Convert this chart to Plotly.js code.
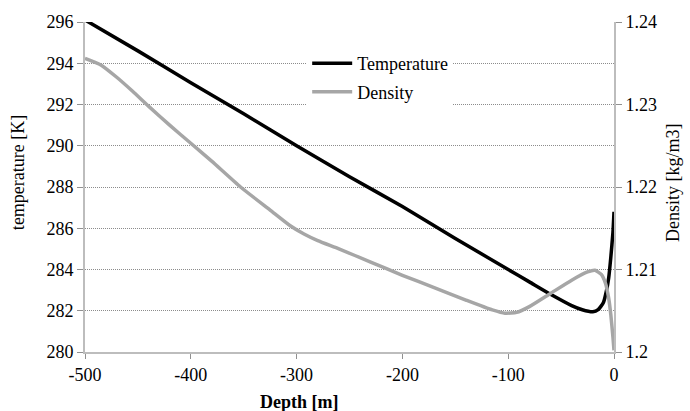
<!DOCTYPE html>
<html>
<head>
<meta charset="utf-8">
<script src="https://cdn.plot.ly/plotly-3.0.1.min.js"></script>
<style>
html,body{margin:0;padding:0;background:#fff;}
#chart{width:690px;height:411px;}
</style>
</head>
<body>
<div id="chart"></div>
<script>
// Temperature profile
var tempDepth = [-500, -450, -400, -350, -300, -250, -200, -150, -100, -80, -60, -40, -30, -20, -15, -10, -7, -5, -3, -1, 0];
var tempValues = [296.1, 294.6, 293.05, 291.55, 290.0, 288.5, 287.05, 285.5, 284.0, 283.4, 282.8, 282.25, 282.05, 281.95, 282.05, 282.4, 283.0, 283.6, 284.6, 285.8, 286.8];

// Density profile
var densDepth = [-500, -485, -470, -455, -440, -420, -400, -380, -353, -325, -306, -293, -280, -260, -230, -200, -170, -140, -115, -103, -92, -80, -60, -40, -25, -18, -12, -8, -5, -3, -1, 0];
var densValues = [1.2356, 1.2348, 1.2333, 1.2316, 1.2298, 1.2275, 1.2253, 1.2231, 1.2200, 1.2172, 1.2153, 1.2143, 1.2135, 1.2125, 1.2109, 1.2093, 1.2078, 1.2063, 1.2051, 1.2047, 1.2048, 1.2055, 1.2071, 1.2087, 1.2097, 1.2099, 1.2094, 1.2083, 1.2065, 1.2045, 1.2018, 1.2002];

var xTicks = [-500, -400, -300, -200, -100, 0];

var serif = "Liberation Serif, Times New Roman, serif";

var traces = [
  {x: tempDepth, y: tempValues, name: "Temperature", type: "scatter", mode: "lines", legendgroup: "a",
   line: {color: "#000000", width: 3.5, shape: "spline", smoothing: 0.5}, yaxis: "y"},
  {x: densDepth, y: densValues, name: "Density", type: "scatter", mode: "lines", legendgroup: "b",
   line: {color: "#a6a6a6", width: 3.5, shape: "spline", smoothing: 0.5}, yaxis: "y2"}
];

var layout = {
  width: 690, height: 411,
  margin: {l: 85, r: 76, t: 22, b: 59},
  paper_bgcolor: "#ffffff", plot_bgcolor: "#ffffff",
  font: {family: serif, size: 18, color: "#000000"},
  showlegend: true,
  legend: {x: 0.42, y: 0.93, xanchor: "left", yanchor: "top", bgcolor: "#ffffff",
           font: {family: serif, size: 18, color: "#000"}, tracegroupgap: 2, itemwidth: 40},
  xaxis: {range: [-500, 0], tickvals: xTicks, ticktext: xTicks.map(String),
          showgrid: false, zeroline: false, showline: true, linecolor: "#bdbdbd", linewidth: 2,
          ticks: "outside", ticklen: 5, tickcolor: "#909090", tickwidth: 1,
          tickfont: {family: serif, size: 18, color: "#000"}},
  yaxis: {range: [280, 296], dtick: 2, tick0: 280,
          showgrid: true, gridcolor: "#8c8c8c", griddash: "1px,1px", gridwidth: 1,
          zeroline: false, showline: true, linecolor: "#bdbdbd", linewidth: 2,
          ticks: "outside", ticklen: 6, tickcolor: "#909090",
          tickfont: {family: serif, size: 18, color: "#000"}},
  yaxis2: {range: [1.2, 1.24], dtick: 0.01, tick0: 1.2, overlaying: "y", side: "right",
           showgrid: false, zeroline: false, showline: true, linecolor: "#bdbdbd", linewidth: 2,
           ticks: "outside", ticklen: 6, tickcolor: "#909090",
           tickfont: {family: serif, size: 18, color: "#000"}},
  annotations: [
    {text: "<b>Depth [m]</b>", xref: "paper", yref: "paper", x: 0.406, y: -0.152,
     xanchor: "center", yanchor: "middle", showarrow: false,
     font: {family: serif, size: 18, color: "#000"}},
    {text: "temperature [K]", xref: "paper", yref: "paper", x: -0.1267, y: 0.545,
     xanchor: "center", yanchor: "middle", textangle: -90, showarrow: false,
     font: {family: serif, size: 18, color: "#000"}},
    {text: "Density [kg/m3]", xref: "paper", yref: "paper", x: 1.1115, y: 0.515,
     xanchor: "center", yanchor: "middle", textangle: -90, showarrow: false,
     font: {family: serif, size: 18, color: "#000"}}
  ]
};

Plotly.newPlot("chart", traces, layout, {displayModeBar: false, staticPlot: true});
</script>
</body>
</html>
